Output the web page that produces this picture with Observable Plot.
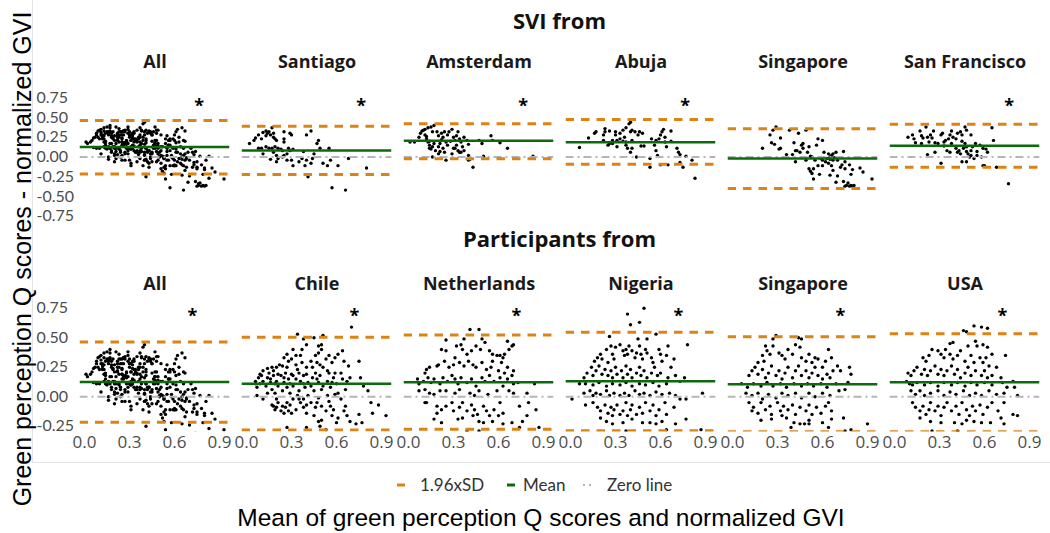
<!DOCTYPE html>
<html><head><meta charset="utf-8">
<script src="https://cdn.jsdelivr.net/npm/d3@7"></script>
<script src="https://cdn.jsdelivr.net/npm/@observablehq/plot@0.6"></script>
<style>
body{margin:0;background:#fff;}
#wrap{position:relative;width:1050px;height:533px;overflow:hidden;background:#fff;}
#wrap svg{position:absolute;left:0;}
</style></head><body><div id="wrap"></div>
<script>
// ---- categories ----
const topPanels = ["All","Santiago","Amsterdam","Abuja","Singapore","San Francisco"];
const bottomPanels = ["All","Chile","Netherlands","Nigeria","Singapore","USA"];
const xTicks = [0, 0.3, 0.6, 0.9];
const topYTicks = [-0.75,-0.5,-0.25,0,0.25,0.5,0.75];
const bottomYTicks = [-0.25,0,0.25,0.5,0.75];

// ---- reference lines ----
const topMean  = [0.125, 0.082, 0.205, 0.188, -0.019, 0.142];
const topUpper = [0.463, 0.390, 0.420, 0.475, 0.357, 0.416];
const topLower = [-0.217,-0.222,-0.023,-0.091,-0.400,-0.129];
const bottomMean  = [0.125, 0.110, 0.122, 0.130, 0.105, 0.122];
const bottomUpper = [0.463, 0.503, 0.523, 0.546, 0.508, 0.534];
const bottomLower = [-0.217,-0.282,-0.276,-0.288,-0.297,-0.297];
const topStarX = [0.765,0.765,0.765,0.765,null,0.765];
const bottomStarX = [0.72,0.72,0.72,0.72,0.72,0.72];
const topStarY = 0.70, bottomStarY = 0.72;

// ---- points: flat pairs (mean x, difference y) in hundredths ----
const santiago = [2,17,5,21,6,24,8,28,10,23,11,31,13,33,14,30,15,32,16,28,17,37,18,25,19,23,20,21,18,30,13,27,8,11,10,11,13,13,15,11,17,11,19,13,21,11,23,10,24,8,25,19,25,23,25,32,29,30,30,28,28,11,29,8,31,10,11,4,16,-3,20,-6,21,-2,24,0,25,2,27,4,27,-4,31,-11,35,-6,37,-2,38,7,40,-4,43,-8,43,33,40,28,44,-2,45,4,47,17,48,21,49,11,51,-8,54,-11,56,-4,55,11,41,-25,57,-39,61,-11,66,-42,68,-2,80,-14,39,-11,30,-4,20,2,18,6];
const amsterdam = [1,19,4,19,7,25,8,30,9,33,10,34,11,35,13,37,15,38,17,40,11,28,12,23,13,19,14,15,15,10,14,11,16,13,16,32,19,32,17,17,20,13,21,17,22,30,23,25,24,32,23,11,24,6,25,-4,25,19,26,15,27,32,29,35,30,25,31,21,30,11,32,15,33,32,33,8,34,23,35,19,34,6,36,13,37,25,37,8,39,21,40,2,40,16,40,-4,41,-3,43,-13,47,21,49,17,50,1,55,27,56,21,61,18,66,11,83,1,16,0,20,4,18,8,21,7,29,4,31,11,35,6,12,26,20,27,26,28,32,27,14,20,28,20,22,22];
const abuja = [6,12,12,24,16,30,17,32,22,28,23,32,23,36,22,21,25,15,26,33,28,17,30,32,31,21,31,13,33,30,35,34,36,25,37,15,37,37,38,11,39,42,40,44,40,32,41,34,41,21,43,32,40,6,41,11,44,0,45,28,46,32,47,14,48,30,49,14,28,21,35,20,37,19,53,-2,53,-13,54,23,56,15,57,21,58,2,59,23,60,28,61,32,62,35,63,19,63,25,64,13,65,-10,67,33,67,20,60,-10,57,8,71,11,72,6,73,3,75,-13,73,-7,77,1,81,-4,83,-27,26,17,30,28,33,23];
const singaporeSvi = [20,11,25,28,26,18,27,34,29,38,28,16,31,10,32,11,32,24,36,3,38,34,40,3,41,18,42,-6,43,8,44,30,45,6,46,15,47,17,47,11,49,34,49,-4,50,6,51,13,52,1,51,-15,52,-18,53,-21,54,-15,55,-4,56,15,57,23,57,-11,58,-22,54,-28,59,-2,60,-4,60,21,61,6,62,-6,63,-2,64,-8,65,-23,65,0,66,-11,66,2,67,-4,67,4,68,-1,69,6,65,-3,69,-32,70,-24,72,-13,74,7,75,-6,75,-15,74,-31,75,-37,76,-36,77,-33,78,-37,79,-36,80,-37,81,-36,79,-22,80,-16,78,-10,85,-14,87,-19,93,-28,42,8,53,0,60,-11,67,-17,70,-4,73,-10,64,4];
const sanFrancisco = [9,25,12,28,13,23,14,18,17,33,18,27,19,24,21,38,22,25,23,19,24,28,25,24,26,33,27,18,29,17,31,28,32,30,33,19,34,21,36,23,37,28,38,33,39,25,41,23,42,30,44,32,45,28,47,38,48,34,51,28,22,3,27,6,31,-8,35,8,37,6,41,11,42,6,43,8,44,4,45,-6,46,11,47,17,48,13,48,7,49,4,48,-6,50,0,51,8,51,2,52,13,53,-2,54,17,55,7,55,2,57,15,58,0,59,11,61,10,62,6,59,-11,60,-11,65,37,66,21,68,-13,76,-34,18,17,33,14,38,17,45,20];

const chile = [70,59,34,53,38,49,45,50,51,52,48,43,50,44,50,40,48,37,40,44,37,40,31,40,33,35,30,32,27,36,25,33,24,26,20,25,17,25,14,24,11,22,9,19,8,16,6,13,6,11,7,8,7,1,9,11,11,13,13,9,14,16,16,12,17,6,18,18,19,3,20,13,21,9,23,18,24,5,25,12,26,20,27,8,28,15,29,3,30,19,31,9,33,15,34,23,35,5,36,13,37,29,38,18,39,8,40,25,41,12,43,30,44,16,45,5,46,20,47,29,48,12,49,18,50,6,51,25,53,32,54,13,55,20,56,8,57,29,58,16,59,33,60,11,61,36,63,20,64,39,65,30,66,6,67,13,68,26,69,16,75,30,76,16,78,9,81,5,17,-7,18,-8,19,-11,20,-9,23,-12,24,-8,25,-14,27,-5,29,-7,31,-2,28,-12,33,-11,36,-5,38,-9,40,-14,43,-5,45,-16,48,-21,49,-25,50,-20,53,-12,56,-8,57,-16,60,-22,63,-2,66,-8,67,-16,69,-21,73,-23,75,-15,77,-22,83,-5,84,-14,88,-7,93,-16,34,1,41,1,54,1,59,2,48,-1,27,-26,53,-28,40,-26,10,18,15,20,16,15,18,22,19,11,21,19,22,27,25,16,27,25,28,30,29,11,31,18,33,27,35,20,36,35,38,11,40,19,43,9,44,25,46,35,47,15,49,27,51,9,54,22,55,35,57,12,59,20,61,3,64,15,11,-2,14,3,20,-2,21,-5,26,-9,30,-14,35,-2,38,-2,40,-7,46,-9,47,-5,50,-8,55,-4,58,-11,61,-18,65,-12];
const netherlands = [41,57,47,57,25,48,37,49,49,49,66,47,22,40,25,39,32,43,35,44,36,40,39,36,42,39,45,43,48,40,51,46,54,39,56,36,59,35,61,35,63,33,64,36,67,40,69,43,70,44,12,23,11,20,14,25,19,26,20,27,24,30,27,25,30,27,31,33,34,29,37,26,40,30,43,27,45,25,49,29,52,23,55,25,56,30,60,22,62,29,64,20,66,25,69,18,70,22,6,15,7,11,10,13,13,16,15,12,17,15,21,11,23,16,26,13,29,18,31,15,33,11,35,16,39,12,42,15,45,9,49,16,51,13,54,18,57,13,61,16,63,9,66,15,70,11,73,12,84,11,7,5,11,6,14,3,17,2,12,-5,21,5,25,5,31,3,34,6,41,3,44,1,47,5,53,2,59,5,67,5,70,3,79,3,11,-5,19,-8,22,-11,19,-14,25,-8,29,-5,30,-12,34,-9,36,-5,39,-12,42,-7,44,-11,46,-15,50,-8,52,-12,54,-16,57,-11,61,-5,63,-14,60,-16,17,-19,22,-22,33,-19,36,-18,43,-16,47,-21,50,-22,56,-21,63,-23,69,-22,74,-8,80,-5,79,-16,76,-21,74,-26,85,-11,87,-26,39,-29,47,-29];
const nigeria = [49,75,38,70,40,61,46,63,26,51,45,49,51,49,57,53,78,44,16,30,18,33,20,36,21,32,24,40,25,29,27,43,28,36,29,32,30,42,33,44,35,39,36,35,37,40,38,36,39,43,41,39,43,33,44,37,46,43,47,36,48,32,50,40,51,37,54,33,55,29,59,40,60,36,61,30,64,35,65,43,67,25,69,32,9,16,11,20,14,25,15,18,17,22,19,26,21,19,23,23,25,18,27,22,28,16,30,25,31,19,34,22,35,16,37,26,38,19,40,23,41,16,44,20,46,25,47,18,49,22,51,16,54,20,56,25,58,18,60,20,65,16,70,18,76,16,6,11,10,11,15,10,19,12,24,9,28,11,33,10,37,12,41,9,46,11,50,10,55,12,59,9,64,11,73,13,1,-2,9,3,13,5,15,1,17,3,20,2,24,5,26,1,29,3,33,1,36,3,39,1,43,5,46,2,49,3,53,1,57,4,61,2,66,3,70,1,88,3,10,-7,15,-5,18,-9,20,-12,23,-7,25,-14,27,-9,28,-16,29,-11,31,-7,33,-15,35,-12,37,-5,38,-16,40,-11,41,-7,44,-15,46,-9,48,-14,50,-5,53,-12,55,-7,57,-16,59,-11,63,-5,64,-15,69,-9,73,-2,77,-2,20,-18,24,-21,28,-23,35,-22,41,-19,48,-22,53,-22,57,-23,61,-21,70,-23,77,-19,37,-29,64,-28,87,-28];
const singaporePart = [29,52,44,50,46,49,27,49,22,43,23,39,20,35,17,29,21,30,25,36,27,43,31,37,33,35,35,32,37,40,40,36,42,44,45,42,46,33,49,30,51,36,53,29,55,33,57,32,60,25,62,30,64,40,66,33,70,26,72,22,78,25,79,19,11,18,13,22,15,25,17,19,20,23,22,16,24,20,26,26,29,18,31,22,33,15,35,20,37,25,40,16,42,22,44,26,46,18,49,22,51,16,53,20,55,25,57,18,60,15,63,19,65,16,67,22,6,11,10,8,14,11,19,9,23,12,27,9,32,11,36,8,41,11,46,9,50,11,54,9,59,11,63,8,69,11,77,12,9,3,13,1,17,3,20,-2,24,2,29,-1,33,3,37,1,42,3,46,-1,51,3,55,0,60,3,65,1,71,5,75,6,11,-5,14,-9,17,-14,19,-5,22,-11,25,-8,26,-15,30,-5,32,-12,34,-8,37,-11,40,-7,42,-15,45,-9,49,-12,51,-7,53,-15,56,-9,59,-14,62,-8,64,-5,66,-12,13,-12,19,-20,26,-19,33,-16,36,-18,41,-22,51,-20,60,-22,66,-19,74,-18,45,-23,48,-23,51,-23,39,-26,64,-26,90,-23,75,-29,79,-28];
const usa = [46,56,48,55,53,60,58,59,62,58,39,46,37,45,49,43,54,47,55,43,59,44,62,42,65,36,74,35,25,40,29,39,31,36,33,33,34,40,37,36,39,32,42,35,44,39,47,30,51,35,53,29,57,33,59,29,61,33,63,26,68,25,19,33,21,30,23,35,9,20,11,18,13,22,15,25,18,19,20,23,22,18,24,22,27,26,29,19,31,23,33,18,35,22,38,26,40,19,42,23,44,16,47,20,49,25,51,18,54,22,58,18,60,22,62,16,65,18,71,16,79,13,8,13,10,11,12,10,15,12,20,10,24,12,29,9,33,12,38,10,42,12,47,9,51,12,55,10,60,12,65,10,72,12,75,8,80,8,11,5,14,2,17,5,20,1,24,3,29,5,33,1,37,4,41,2,46,5,50,1,54,3,58,1,63,5,68,2,73,3,82,1,12,-5,14,-9,17,-12,19,-8,21,-15,23,-11,24,-5,27,-12,29,-8,31,-16,33,-9,35,-5,38,-12,41,-8,43,-15,45,-5,48,-11,50,-16,52,-8,54,-12,57,-7,59,-15,62,-9,65,-5,69,-12,73,-5,79,-15,82,-16,17,-18,24,-21,31,-22,40,-22,45,-23,48,-20,53,-21,58,-22,64,-22,71,-18,73,-23,42,-29,25,-29];

// ---- build tables ----
function pairs(panel, arr){ const out=[]; for(let i=0;i<arr.length;i+=2) out.push({panel, x:arr[i]/100, y:arr[i+1]/100}); return out; }
const allSvi = [santiago, amsterdam, abuja, singaporeSvi, sanFrancisco];
const allFlat = [].concat(...allSvi);
const topPts = [
  ...pairs("All", allFlat), ...pairs("Santiago", santiago), ...pairs("Amsterdam", amsterdam),
  ...pairs("Abuja", abuja), ...pairs("Singapore", singaporeSvi), ...pairs("San Francisco", sanFrancisco)];
const bottomPts = [
  ...pairs("All", allFlat), ...pairs("Chile", chile), ...pairs("Netherlands", netherlands),
  ...pairs("Nigeria", nigeria), ...pairs("Singapore", singaporePart), ...pairs("USA", usa)];

const ORANGE = "#dd8214", GREEN = "#0b6a0b", ZERO = "#b5b5b5";
const FONT = "'Open Sans', Lato, sans-serif";
const fmtY = v => (v < 0 ? "-" : "") + Math.abs(v).toFixed(2);

function row({panels, pts, mean, upper, lower, starX, starY, yDomain, yTicks, height, marginTop, marginBottom, stripDy, showX}) {
  const stats = panels.map((p,i)=>({panel:p, mean:mean[i], upper:upper[i], lower:lower[i]}));
  const stars = panels.map((p,i)=>({panel:p, x:starX[i], y:starY})).filter(d=>d.x!=null);
  const ticks = yTicks.map(t=>({panel:panels[0], y:t}));
  const marks = [
    Plot.dot(pts, {fx:"panel", x:"x", y:"y", r:1.7, fill:"#000", stroke:"none", clip:true}),
    Plot.ruleY(stats, {fx:"panel", y:()=>0, stroke:ZERO, strokeWidth:2, strokeDasharray:"8 4 2 4", clip:true}),
    Plot.ruleY(stats, {fx:"panel", y:"mean", stroke:GREEN, strokeWidth:2.5, clip:true}),
    Plot.ruleY(stats, {fx:"panel", y:"upper", stroke:ORANGE, strokeWidth:3, strokeDasharray:"8.5 7", clip:true}),
    Plot.ruleY(stats, {fx:"panel", y:"lower", stroke:ORANGE, strokeWidth:3, strokeDasharray:"8.5 7", clip:true}),
    Plot.text(stars, {fx:"panel", x:"x", y:"y", text:()=>"*", fontSize:18, fontWeight:"bold", fill:"#000", lineAnchor:"middle", dy:4}),
    Plot.text(panels.map(p=>({panel:p})), {fx:"panel", text:"panel", frameAnchor:"top", lineAnchor:"bottom", dy:stripDy, fontWeight:"bold", fontSize:18, fill:"#1a1a1a"}),
    Plot.text(ticks, {fx:"panel", y:"y", text:d=>fmtY(d.y), frameAnchor:"left", textAnchor:"start", dx:-43.5, lineAnchor:"middle", fontFamily:"Lato, sans-serif", fontSize:16, fill:"#4d4d4d"})
  ];
  if (showX) marks.push(Plot.axisX({ticks:xTicks, tickFormat:d=>d.toFixed(1), tickSize:0, tickPadding:4, fontSize:17, color:"#4d4d4d", label:null}));
  return Plot.plot({
    width:1050, height, marginLeft:79.5, marginRight:10.5, marginTop, marginBottom,
    style:{fontFamily:FONT, fontSize:"17px", background:"transparent", overflow:"visible", color:"#4d4d4d"},
    fx:{domain:panels, axis:null, paddingInner:12/162, paddingOuter:0, round:false},
    x:{domain:[-0.03,0.97], axis:null},
    y:{domain:yDomain, axis:null},
    marks
  });
}

const wrap = document.getElementById("wrap");
const topPlot = row({panels:topPanels, pts:topPts, mean:topMean, upper:topUpper, lower:topLower,
  starX:topStarX, starY:topStarY, yDomain:[-0.8,0.83], yTicks:topYTicks,
  height:230, marginTop:91, marginBottom:10.4, stripDy:-24, showX:false});
topPlot.style.top = "0px";
wrap.appendChild(topPlot);
const bottomPlot = row({panels:bottomPanels, pts:bottomPts, mean:bottomMean, upper:bottomUpper, lower:bottomLower,
  starX:bottomStarX, starY:bottomStarY, yDomain:[-0.3,0.8], yTicks:bottomYTicks,
  height:233, marginTop:71.8, marginBottom:31.4, stripDy:-12, showX:true});
bottomPlot.style.top = "230px";
wrap.appendChild(bottomPlot);

// ---- titles, legend, frame ----
const ov = d3.create("svg").attr("width",1050).attr("height",533).style("top","0px").style("pointer-events","none");
ov.append("line").attr("x1",32.5).attr("y1",0).attr("x2",32.5).attr("y2",462.5).attr("stroke","#e3e3e3");
ov.append("line").attr("x1",32).attr("y1",462.5).attr("x2",1050).attr("y2",462.5).attr("stroke","#e3e3e3");
const T = (txt,x,y,o={}) => ov.append("text").text(txt).attr("x",x).attr("y",y)
  .attr("text-anchor",o.anchor||"middle").attr("font-family",o.family||FONT).attr("font-size",o.size||17)
  .attr("font-weight",o.weight||"normal").attr("fill",o.fill||"#000").attr("transform",o.transform||null);
T("SVI from",559.5,29,{size:22,weight:"bold",fill:"#111"});
T("Participants from",559.5,247,{size:22,weight:"bold",fill:"#111"});
T("Mean of green perception Q scores and normalized GVI",541,526,{family:"'Liberation Sans', Arial, sans-serif",size:24.5});
T("Green perception Q scores - normalized GVI",0,0,{family:"'Liberation Sans', Arial, sans-serif",size:25,transform:"translate(31,259) rotate(-90)"});
const leg = [
  {label:"1.96xSD", x1:397, x2:405, tx:420, stroke:ORANGE, w:3, dash:null},
  {label:"Mean", x1:507, x2:515, tx:523, stroke:GREEN, w:3, dash:null},
  {label:"Zero line", x1:583, x2:593, tx:607, stroke:ZERO, w:2, dash:"2 4"}
];
leg.forEach(d=>{
  ov.append("line").attr("x1",d.x1).attr("x2",d.x2).attr("y1",485).attr("y2",485).attr("stroke",d.stroke).attr("stroke-width",d.w).attr("stroke-dasharray",d.dash);
  T(d.label,d.tx,491,{anchor:"start",fill:"#333",family:"Lato, sans-serif"});
});
wrap.appendChild(ov.node());
</script></body></html>
